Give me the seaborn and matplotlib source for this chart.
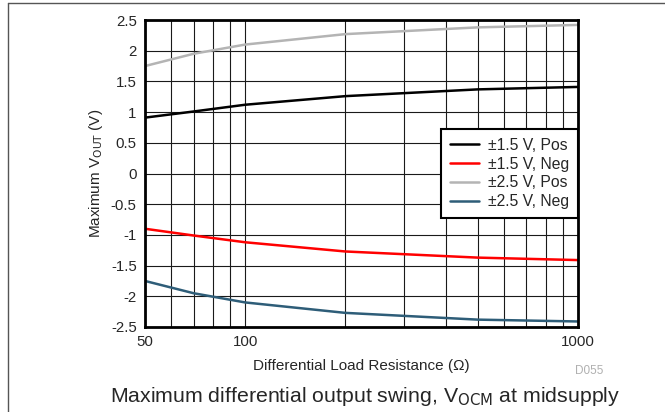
import seaborn as sns
import matplotlib.pyplot as plt
import matplotlib.ticker as mticker
import pandas as pd

# load resistance (ohm)
resistance = [50, 70, 100, 200, 500, 1000]
pos_15 = [0.91, 1.01, 1.12, 1.26, 1.37, 1.41]
neg_15 = [-0.90, -1.01, -1.12, -1.27, -1.37, -1.41]
pos_25 = [1.75, 1.95, 2.10, 2.27, 2.38, 2.42]
neg_25 = [-1.75, -1.95, -2.10, -2.27, -2.38, -2.41]

series_names = ['\u00b11.5 V, Pos', '\u00b11.5 V, Neg', '\u00b12.5 V, Pos', '\u00b12.5 V, Neg']
series_colors = ['#000000', '#ff0000', '#b4b4b4', '#2e5d78']

y_ticks = [-2.5, -2, -1.5, -1, -0.5, 0, 0.5, 1, 1.5, 2, 2.5]
y_ticklabels = ['-2.5', '-2', '-1.5', '-1', '-0.5', '0', '0.5', '1', '1.5', '2', '2.5']
x_ticks = [50, 100, 1000]

rows = []
for name, vals in zip(series_names, [pos_15, neg_15, pos_25, neg_25]):
    for r, v in zip(resistance, vals):
        rows.append({'R': r, 'V': v, 'series': name})
df = pd.DataFrame(rows)

sns.set_style('white')
plt.rcParams['font.family'] = ['Liberation Sans', 'DejaVu Sans']

fig = plt.figure(figsize=(6.65, 4.12), dpi=100)
ax = fig.add_axes([145 / 665, 1 - 327 / 412, (578 - 145) / 665, (327 - 20) / 412])

sns.lineplot(data=df, x='R', y='V', hue='series', hue_order=series_names,
             palette=series_colors, linewidth=1.8, ax=ax, legend=True)

ax.set_xscale('log')
ax.set_xlim(50, 1000)
ax.set_ylim(-2.5, 2.5)

minor = [60, 70, 80, 90, 200, 300, 400, 500, 600, 700, 800, 900]
ax.xaxis.set_major_locator(mticker.FixedLocator(x_ticks))
ax.xaxis.set_major_formatter(mticker.FixedFormatter([str(t) for t in x_ticks]))
ax.xaxis.set_minor_locator(mticker.FixedLocator(minor))
ax.xaxis.set_minor_formatter(mticker.NullFormatter())
ax.set_yticks(y_ticks)
ax.set_yticklabels(y_ticklabels)

ax.grid(True, which='both', color='#1a1a1a', linewidth=0.8)
ax.tick_params(which='both', length=0, labelsize=10.8, pad=6)
for s in ax.spines.values():
    s.set_visible(True)
    s.set_color('black')
    s.set_linewidth(2)

ax.set_xlabel('Differential Load Resistance (\u03a9)', fontsize=11, labelpad=7)
ax.set_ylabel('Maximum V$_{\\mathrm{OUT}}$ (V)', fontsize=11, labelpad=4)

leg = ax.legend(loc='center right', bbox_to_anchor=(1.0, 0.50), fontsize=11.3,
                frameon=True, fancybox=False, handlelength=1.9, borderpad=0.55,
                labelspacing=0.25, handletextpad=0.55, borderaxespad=0)
leg.get_frame().set_edgecolor('black')
leg.get_frame().set_linewidth(1.5)
leg.get_frame().set_alpha(1)

fig.text(589 / 665, 1 - 371 / 412, 'D055', fontsize=8.5, color='#b0b0b0', ha='center', va='center')
fig.text(365 / 665, 1 - 397 / 412, 'Maximum differential output swing, V$_{\\mathrm{OCM}}$ at midsupply',
         fontsize=15.3, ha='center', va='center')

# outer frame lines (top and left)
fig.add_artist(plt.Line2D([8 / 665, 1], [1 - 3 / 412, 1 - 3 / 412], color='#555555', linewidth=1))
fig.add_artist(plt.Line2D([8 / 665, 8 / 665], [0, 1 - 3 / 412], color='#555555', linewidth=1))

fig.savefig('out.png', dpi=100)
